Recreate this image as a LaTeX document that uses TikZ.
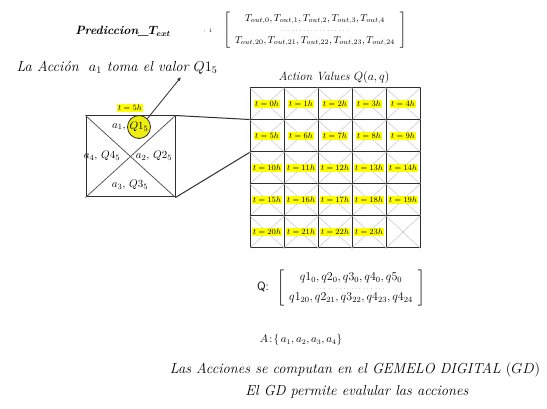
\documentclass[tikz,border=0pt]{standalone}
\usepackage{amsmath}
\usepackage{amssymb}
\usepackage{bm}
\usetikzlibrary{arrows.meta}
\definecolor{marco}{HTML}{2E2E33}
\definecolor{diag}{HTML}{BDBDBD}
\definecolor{diagbox}{HTML}{5A5A60}
\definecolor{resalte}{HTML}{FFFF00}
\definecolor{circulo}{HTML}{EEEE10}
\newcommand{\celda}[4]{%
  \node[celda] (#1) at (#2,#3) {};
  \draw[diag] (#1.north west) -- (#1.south east) (#1.north east) -- (#1.south west);
  \ifx\relax#4\relax\else
    \node[etiq] at (#1) {#4};
  \fi}
\newcommand{\puntos}{{\tiny$\cdots\,\cdots\,\cdots\,\cdots\,\cdots\,\cdots$}}

\begin{document}
\begin{tikzpicture}[x=1pt, y=-1pt,
  celda/.style={draw=marco, line width=1pt, minimum width=34pt, minimum height=32pt, inner sep=0pt},
  etiq/.style={fill=resalte, inner sep=1pt, font=\fontsize{8}{9}\selectfont},
  texto/.style={font=\fontsize{14.5}{17}\selectfont\itshape, inner sep=0pt}]
  \useasboundingbox[fill=white] (0,0) rectangle (547,409);
  % encabezado
  \node[texto, font=\fontsize{12}{14}\selectfont\bfseries\itshape] (pred) at (123,31)
    {Prediccion\_$\bm{T_{ext}}$};
  \node[font=\fontsize{5}{6}\selectfont] (dosp) at (208,31) {: 1};
  \node[inner sep=0pt, font=\fontsize{10}{12}\selectfont] (mtout) at (315,30)
    {$\left[\begin{array}{c}
      T_{out,0}, T_{out,1}, T_{out,2}, T_{out,3}, T_{out,4}\\[-1pt]
      \text{\puntos}\\[-1pt]
      T_{out,20}, T_{out,21}, T_{out,22}, T_{out,23}, T_{out,24}
    \end{array}\right]$};
  \node[texto] (accion) at (117,68) {La Acción \ $a_1$ toma el valor $Q1_5$};
  \coordinate (puntaflecha) at (181,77);
  % casilla ampliada
  \node[draw=marco, line width=1pt, minimum width=89pt, minimum height=81pt, inner sep=0pt] (caja) at (130.5,156.5) {};
  \draw[diagbox, line width=0.8pt] (caja.north west) -- (caja.south east) (caja.north east) -- (caja.south west);
  \node[etiq] (t5) at (130,108) {$t=5h$};
  \node[font=\fontsize{11}{13}\selectfont] (a1) at (119,127) {$a_1,$};
  \node[circle, fill=circulo, draw=marco, line width=0.8pt, minimum size=23pt, inner sep=0pt,
    font=\fontsize{11}{13}\selectfont] (q1) at (139,127) {$Q1_5$};
  \node[font=\fontsize{11}{13}\selectfont, inner sep=0pt] (a4) at (102,156) {$a_4,\,Q4_5$};
  \node[font=\fontsize{11}{13}\selectfont, inner sep=0pt] (a2) at (154,156) {$a_2,\,Q2_5$};
  \node[font=\fontsize{11}{13}\selectfont, inner sep=0pt] (a3) at (130,185) {$a_3,\,Q3_5$};
  \draw[marco, line width=0.8pt, -{Latex[length=4pt,width=3.5pt]}] (q1.north east) -- (puntaflecha);
  % rejilla de valores
  \node[texto, font=\fontsize{12}{14}\selectfont\itshape] (titulo) at (334,78) {Action Values $Q(a,q)$};
  \foreach \r in {0,...,4} {
    \foreach \c in {0,...,4} {
      \pgfmathtruncatemacro\hora{5*\r+\c}
      \ifnum\hora<24
        \celda{c\r-\c}{267+34*\c}{104+32*\r}{$t=\hora h$}
      \else
        \celda{c\r-\c}{267+34*\c}{104+32*\r}{}
      \fi
    }
  }
  \draw[marco, line width=1pt] (caja.north east) -- (c1-0.north west);
  \draw[marco, line width=1pt] (caja.south east) -- (c1-0.south west);
  % vector Q y acciones
  \node[font=\sffamily\fontsize{12}{14}\selectfont] (qlab) at (263,287) {Q:};
  \node[inner sep=0pt, font=\fontsize{12}{14}\selectfont] (mq) at (351,288)
    {$\left[\begin{array}{c}
      q1_0, q2_0, q3_0, q4_0, q5_0\\[-4pt]
      \text{\puntos}\\[-4pt]
      q1_{20}, q2_{21}, q3_{22}, q4_{23}, q4_{24}
    \end{array}\right]$};
  \node[font=\fontsize{10.5}{12}\selectfont] (acc) at (301,340) {$A\!:\!\{\,a_1, a_2, a_3, a_4\}$};
  % pie
  \node[texto] (pie1) at (355,370) {Las Acciones se computan en el \textit{GEMELO DIGITAL} $(GD)$};
  \node[texto] (pie2) at (357,392) {El GD permite evalular las acciones};
\end{tikzpicture}
\end{document}
